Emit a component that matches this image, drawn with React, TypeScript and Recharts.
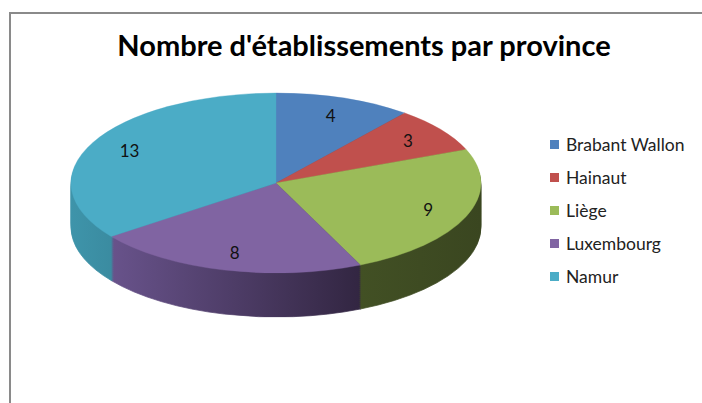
import { PieChart, Pie, Cell, Legend } from 'recharts';

const provinces = ['Brabant Wallon', 'Hainaut', 'Liège', 'Luxembourg', 'Namur'];
const counts = [4, 3, 9, 8, 13];
const topColors = ['#4f81bd', '#c0504d', '#9bbb59', '#8064a2', '#4bacc6'];
// side wall shading, light (left) to dark (right)
const wallLeft = ['#4a78ae', '#a94744', '#55682e', '#715a97', '#3e94aa'];
const wallRight = ['#263f5e', '#5e2624', '#3a4620', '#18101e', '#1a3e48'];

const title = "Nombre d'établissements par province";

const CX = 276;
const CY = 183;
const R = 205;
const SQUASH = 0.439; // vertical flattening of the disc
const layers = [44, 42, 40, 38, 36, 34, 32, 30, 28, 26, 24, 22, 20, 18, 16, 14, 12, 10, 8, 6, 4, 2];

const sliceData = provinces.map((name, i) => ({ name, value: counts[i] }));

const renderLabel = (props: any) => {
  const { cx, cy, midAngle, outerRadius, value } = props;
  const a = (-midAngle * Math.PI) / 180;
  const x = cx + outerRadius * 0.8 * Math.cos(a);
  const y = cy + outerRadius * 0.8 * Math.sin(a) * SQUASH;
  return (
    <text x={x} y={y} textAnchor="middle" dominantBaseline="central" fill="#111" fontSize={17} fontFamily="Lato, sans-serif">
      {value}
    </text>
  );
};

const renderLegend = () => (
  <div style={{ fontFamily: 'Lato, sans-serif', fontSize: 17.5, color: '#222' }}>
    {provinces.map((p, i) => (
      <div key={p} style={{ display: 'flex', alignItems: 'center', height: 33 }}>
        <span style={{ width: 9, height: 9, background: topColors[i], marginRight: 7, display: 'inline-block' }} />
        <span>{p}</span>
      </div>
    ))}
  </div>
);

export default function App() {
  return (
    <div className="pie3d" style={{ position: 'absolute', left: 0, top: 0, width: 702, height: 403, background: '#fff', overflow: 'hidden' }}>
      <style>{`.pie3d .recharts-sector { transform-box: view-box; transform-origin: ${CX}px ${CY}px; transform: scaleY(${SQUASH}); }`}</style>
      <svg width={0} height={0} style={{ position: 'absolute' }}>
        <defs>
          {provinces.map((p, i) => (
            <linearGradient key={p} id={`wall${i}`} gradientUnits="userSpaceOnUse" x1={CX - R} y1={0} x2={CX + R} y2={0}>
              <stop offset="0" stopColor={wallLeft[i]} />
              <stop offset="1" stopColor={wallRight[i]} />
            </linearGradient>
          ))}
        </defs>
      </svg>
      <div style={{ position: 'absolute', left: 9, top: 12, width: 720, height: 420, borderTop: '2px solid #8a8a8a', borderLeft: '2px solid #8a8a8a' }} />
      <div style={{ position: 'absolute', left: 0, top: 27, width: 728, textAlign: 'center', fontFamily: 'Lato, sans-serif', fontWeight: 700, fontSize: 29, color: '#000' }}>
        {title}
      </div>
      <div style={{ position: 'absolute', left: 0, top: 0 }}>
        <PieChart width={702} height={403} margin={{ top: 0, right: 0, bottom: 0, left: 0 }}>
          {layers.map((d) => (
            <Pie
              key={`wall-${d}`}
              data={sliceData}
              dataKey="value"
              nameKey="name"
              cx={CX}
              cy={CY + d / SQUASH}
              outerRadius={R}
              startAngle={90}
              endAngle={-270}
              stroke="none"
              legendType="none"
              isAnimationActive={false}
            >
              {sliceData.map((s, i) => (
                <Cell key={s.name} fill={`url(#wall${i})`} stroke={`url(#wall${i})`} strokeWidth={1} />
              ))}
            </Pie>
          ))}
          <Pie
            data={sliceData}
            dataKey="value"
            nameKey="name"
            cx={CX}
            cy={CY}
            outerRadius={R}
            startAngle={90}
            endAngle={-270}
            label={renderLabel}
            labelLine={false}
            isAnimationActive={false}
          >
            {sliceData.map((s, i) => (
              <Cell key={s.name} fill={topColors[i]} stroke={topColors[i]} strokeWidth={0.5} />
            ))}
          </Pie>
          <Legend
            layout="vertical"
            verticalAlign="top"
            align="right"
            wrapperStyle={{ left: 550, right: 'auto', top: 128, width: 150 }}
            content={renderLegend}
          />
        </PieChart>
      </div>
    </div>
  );
}
